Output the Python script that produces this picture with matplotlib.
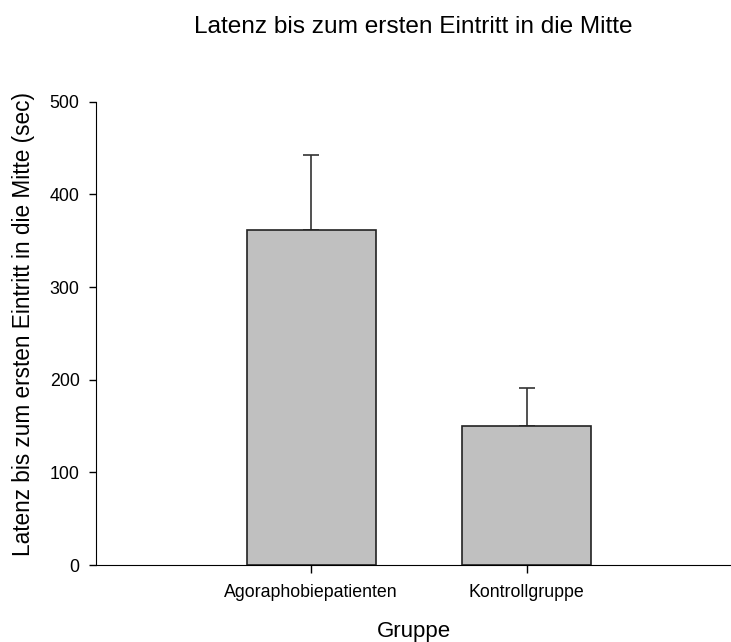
import matplotlib
matplotlib.use("Agg")
import matplotlib.pyplot as plt
import numpy as np

plt.rcParams['font.family'] = ['Liberation Sans', 'DejaVu Sans']

groups = ["Agoraphobiepatienten", "Kontrollgruppe"]
latency = [362, 150]
sem = [80, 41.5]
yticks = [0, 100, 200, 300, 400, 500]

fig = plt.figure(figsize=(7.31, 6.42), dpi=100)
# axes box in figure fractions: y-axis at x=96px, 0..500 spans 565..102px
ax = fig.add_axes([0.1313, 0.1199, 0.8687, 0.7217])

x = np.arange(len(groups))
ax.bar(x, latency, width=0.6, color="#c0c0c0", edgecolor="#222222", linewidth=1.2, zorder=2)
# only the upper half of the error bar is drawn
ax.errorbar(x, latency, yerr=[np.zeros(len(sem)), sem], fmt="none", ecolor="#333333",
            elinewidth=1.2, capsize=6, capthick=1.2, zorder=1)

ax.set_xlim(-1.0, 1.95)
ax.set_ylim(0, 500)
ax.set_yticks(yticks)
ax.set_xticks(x)
ax.set_xticklabels(groups)
ax.spines["top"].set_visible(False)
ax.spines["right"].set_visible(False)
ax.tick_params(axis="both", direction="out", labelsize=12.8, width=1.0)
ax.tick_params(axis="x", length=6.1, pad=7.5)
ax.tick_params(axis="y", length=4.8, pad=7)

ax.set_xlabel("Gruppe", fontsize=16, va="baseline")
ax.xaxis.set_label_coords(0.5, -0.1555)
ax.set_ylabel("Latenz bis zum ersten Eintritt in die Mitte (sec)", fontsize=16.3,
              va="center", ha="center")
ax.yaxis.set_label_coords(-0.1134, 0.52)
fig.text(0.565, 0.9486, "Latenz bis zum ersten Eintritt in die Mitte", fontsize=17.6,
         ha="center", va="baseline")

fig.savefig("out.png", dpi=100)
